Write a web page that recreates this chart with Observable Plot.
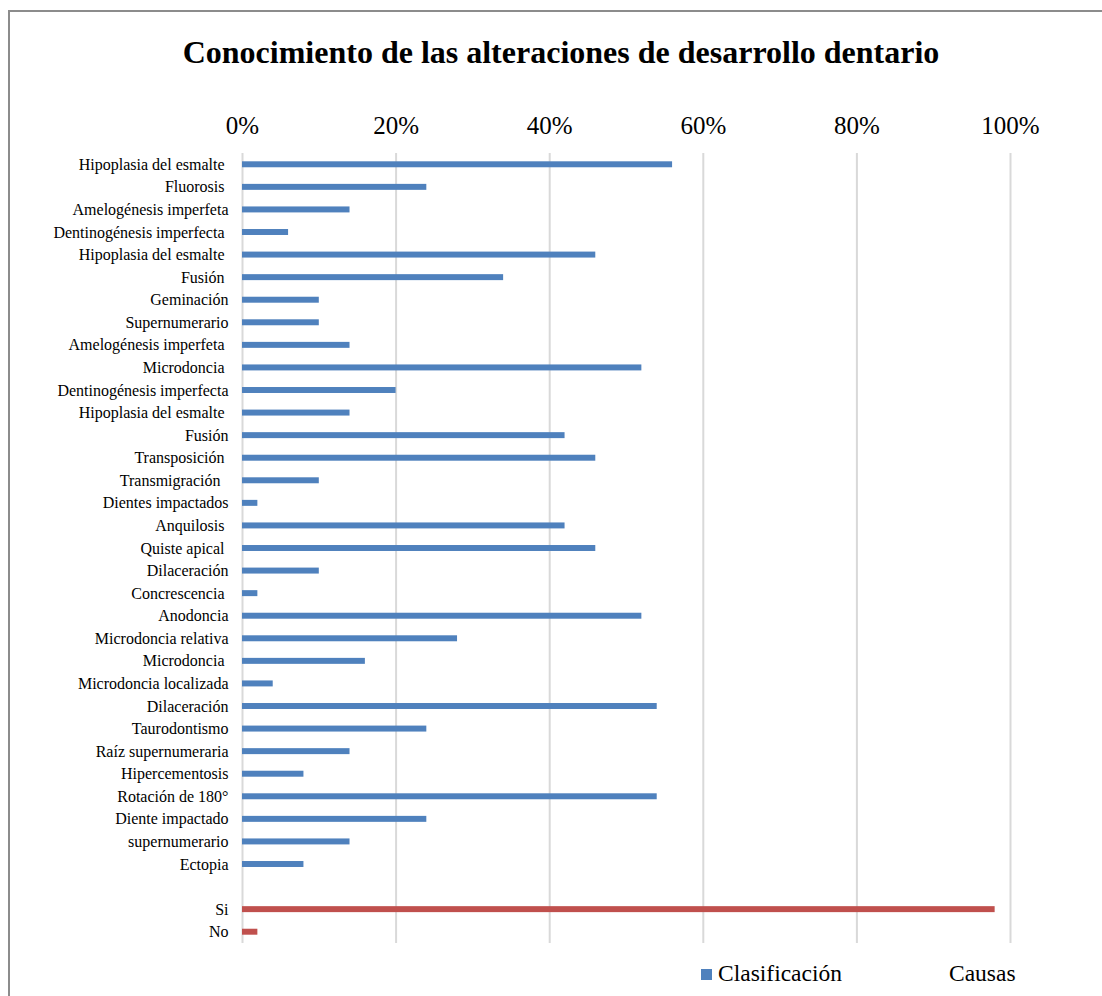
<!DOCTYPE html>
<html>
<head>
<meta charset="utf-8">
<script src="https://cdn.jsdelivr.net/npm/d3@7"></script>
<script src="https://cdn.jsdelivr.net/npm/@observablehq/plot@0.6"></script>
<style>
  html, body { margin: 0; padding: 0; background: #fff; }
  body { width: 1102px; height: 996px; overflow: hidden; position: relative; font-family: "Liberation Serif", "Times New Roman", serif; }
  #frame { position: absolute; left: 8px; top: 10px; width: 1200px; height: 1100px; border-left: 2px solid #8c8c8c; border-top: 2px solid #8c8c8c; box-sizing: border-box; }
  #title { position: absolute; left: 10px; top: 0; width: 1102px; height: 95px; text-align: center; font-weight: bold; font-size: 32px; line-height: 104px; color: #000; }
  #chart { position: absolute; left: 0; top: 95px; }
  #chart svg { display: block; }
  #chart svg text { white-space: pre; }
  #legend { position: absolute; top: 958px; left: 0; width: 1102px; height: 30px; font-size: 23.5px; color: #000; }
  #legend .item { position: absolute; top: 0; line-height: 30px; white-space: nowrap; }
  #legend .sw { display: inline-block; width: 11px; height: 11px; margin-right: 6px; vertical-align: 1px; }
</style>
</head>
<body>
<div id="frame"></div>
<div id="title">Conocimiento de las alteraciones de desarrollo dentario</div>
<div id="chart"></div>
<div id="legend"></div>
<script>
const clasificacionLabels = [
  "Hipoplasia del esmalte ", "Fluorosis ", "Amelogénesis imperfeta", "Dentinogénesis imperfecta ",
  "Hipoplasia del esmalte ", "Fusión ", "Geminación", "Supernumerario",
  "Amelogénesis imperfeta ", "Microdoncia ", "Dentinogénesis imperfecta", "Hipoplasia del esmalte ",
  "Fusión", "Transposición ", "Transmigración  ", "Dientes impactados",
  "Anquilosis ", "Quiste apical ", "Dilaceración", "Concrescencia ",
  "Anodoncia", "Microdoncia relativa", "Microdoncia ", "Microdoncia localizada",
  "Dilaceración", "Taurodontismo", "Raíz supernumeraria", "Hipercementosis",
  "Rotación de 180°", "Diente impactado", "supernumerario", "Ectopia"
];
const clasificacionValues = [
  0.56, 0.24, 0.14, 0.06,
  0.46, 0.34, 0.10, 0.10,
  0.14, 0.52, 0.20, 0.14,
  0.42, 0.46, 0.10, 0.02,
  0.42, 0.46, 0.10, 0.02,
  0.52, 0.28, 0.16, 0.04,
  0.54, 0.24, 0.14, 0.08,
  0.54, 0.24, 0.14, 0.08
];
const causasLabels = ["Si", "No"];
const causasValues = [0.98, 0.02];
const seriesNames = ["Clasificación", "Causas"];
const seriesColors = ["#4F81BD", "#C0504D"];
const xTicks = [0, 0.2, 0.4, 0.6, 0.8, 1.0];

// Build rows: clasificación, one empty spacer row, then causas
const rows = [];
clasificacionLabels.forEach((l, i) => rows.push({id: rows.length, label: l, value: clasificacionValues[i], series: seriesNames[0]}));
const spacerId = rows.length;
const labelById = new Map(rows.map(r => [r.id, r.label]));
labelById.set(spacerId, "");
causasLabels.forEach((l, i) => {
  const id = spacerId + 1 + i;
  rows.push({id, label: l, value: causasValues[i], series: seriesNames[1]});
  labelById.set(id, l);
});
const domainY = d3.range(spacerId + 1 + causasLabels.length);

const chart = Plot.plot({
  width: 1102,
  height: 860,
  marginLeft: 242,
  marginRight: 92,
  marginTop: 58,
  marginBottom: 12,
  style: {fontFamily: "'Liberation Serif', 'Times New Roman', serif", background: "transparent", overflow: "visible"},
  x: {domain: [0, 1], label: null},
  y: {domain: domainY, padding: 0, round: false, label: null},
  color: {domain: seriesNames, range: seriesColors},
  marks: [
    Plot.ruleX(xTicks, {x: d => d, stroke: "#d9d9d9", strokeWidth: 2}),
    Plot.barX(rows, {x: "value", y: "id", fill: "series", insetTop: 8.3, insetBottom: 8.3}),
    Plot.axisX({anchor: "top", ticks: xTicks, tickFormat: d3.format(".0%"), tickSize: 0, tickPadding: 20, fontSize: 25, fill: "#000", label: null}),
    Plot.axisY({anchor: "left", tickFormat: d => labelById.get(d), tickSize: 0, tickPadding: 14, fontSize: 16, fill: "#000", label: null})
  ]
});
document.getElementById("chart").appendChild(chart);

// Legend
const legend = document.getElementById("legend");
const positions = [701, 949];
seriesNames.forEach((name, i) => {
  const item = document.createElement("div");
  item.className = "item";
  item.style.left = positions[i] + "px";
  if (i === 0) {
    const sw = document.createElement("span");
    sw.className = "sw";
    sw.style.background = seriesColors[i];
    item.appendChild(sw);
  }
  item.appendChild(document.createTextNode(name));
  legend.appendChild(item);
});
</script>
</body>
</html>
